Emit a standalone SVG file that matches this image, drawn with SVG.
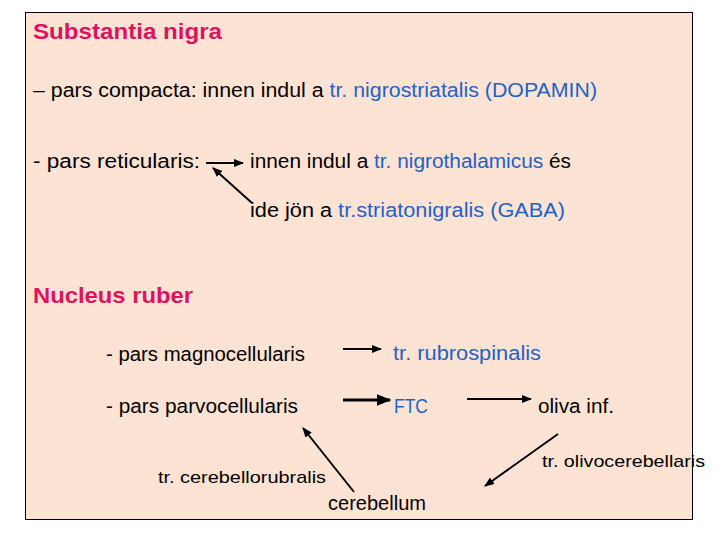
<svg xmlns="http://www.w3.org/2000/svg" width="720" height="540" viewBox="0 0 720 540">
<defs>
<style>
text{font-family:"Liberation Sans",Arial,sans-serif;font-size:20px;fill:#000}
.h{font-size:22px;font-weight:bold;fill:#E0125F}
.b{fill:#1F62C4}
.s{font-size:17px}
.c line{stroke:#000;stroke-width:2;marker-end:url(#ah)}
</style>
<marker id="ah" viewBox="0 0 10 10" refX="9" refY="5" markerWidth="5" markerHeight="5" orient="auto">
<path d="M0,1 L10,5 L0,9 z" fill="#000"/>
</marker>
</defs>
<rect width="720" height="540" fill="#fff"/>
<rect x="25.5" y="12.5" width="667" height="507" fill="#FDE3D4" stroke="#000" stroke-width="1"/>
<g id="substantia-nigra"><text class="h" x="33" y="39" textLength="189" lengthAdjust="spacingAndGlyphs">Substantia nigra</text></g>
<g id="pars-compacta"><text x="33" y="97" textLength="564" lengthAdjust="spacingAndGlyphs">– pars compacta: innen indul a <tspan class="b">tr. nigrostriatalis (DOPAMIN)</tspan></text></g>
<g id="pars-reticularis"><text x="33" y="168" textLength="167" lengthAdjust="spacingAndGlyphs">- pars reticularis:</text></g>
<g id="nigrothalamicus"><text x="250" y="168" textLength="321" lengthAdjust="spacingAndGlyphs">innen indul a <tspan class="b">tr. nigrothalamicus</tspan> és</text></g>
<g id="striatonigralis"><text x="250" y="217" textLength="315" lengthAdjust="spacingAndGlyphs">ide jön a <tspan class="b">tr.striatonigralis (GABA)</tspan></text></g>
<g id="nucleus-ruber"><text class="h" x="33" y="303" textLength="160" lengthAdjust="spacingAndGlyphs">Nucleus ruber</text></g>
<g id="magnocellularis"><text x="106" y="361" textLength="199" lengthAdjust="spacingAndGlyphs">- pars magnocellularis</text></g>
<g id="parvocellularis"><text x="106" y="413" textLength="192" lengthAdjust="spacingAndGlyphs">- pars parvocellularis</text></g>
<g id="rubrospinalis"><text class="b" x="393" y="360" textLength="148" lengthAdjust="spacingAndGlyphs">tr. rubrospinalis</text></g>
<g id="ftc"><text class="b" x="394" y="413" textLength="34" lengthAdjust="spacingAndGlyphs">FTC</text></g>
<g id="oliva-inf"><text x="538" y="413" textLength="76" lengthAdjust="spacingAndGlyphs">oliva inf.</text></g>
<g id="olivocerebellaris"><text class="s" x="542" y="467" textLength="163" lengthAdjust="spacingAndGlyphs">tr. olivocerebellaris</text></g>
<g id="cerebellorubralis"><text class="s" x="158" y="483" textLength="168" lengthAdjust="spacingAndGlyphs">tr. cerebellorubralis</text></g>
<g id="cerebellum"><text x="328" y="510" textLength="98" lengthAdjust="spacingAndGlyphs">cerebellum</text></g>
<g id="connectors" class="c">
<line x1="206" y1="163" x2="243" y2="163"/>
<line x1="252" y1="203" x2="213" y2="168"/>
<line x1="343" y1="349" x2="381" y2="349"/>
<line x1="343" y1="400" x2="390" y2="400" style="stroke-width:3"/>
<line x1="467" y1="399" x2="531" y2="399"/>
<line x1="558" y1="434" x2="485" y2="486"/>
<line x1="354" y1="492" x2="303" y2="428"/>
</g>
</svg>
